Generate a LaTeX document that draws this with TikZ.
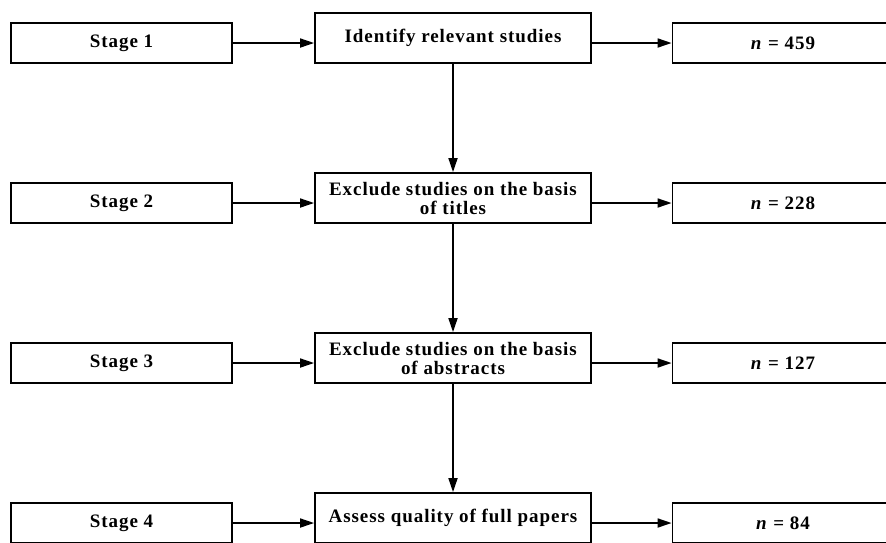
\documentclass[tikz,border=0pt]{standalone}
\usepackage{fontspec}
\setmainfont{Liberation Serif}[LetterSpace=5]
\usetikzlibrary{arrows.meta}
\tikzset{
  box/.style={draw, line width=1.8pt, inner sep=0pt, align=center,
    font=\fontsize{19}{19}\selectfont\bfseries},
  sidebox/.style={box, minimum width=221pt, minimum height=40pt},
  midbox/.style={box, minimum width=276pt, minimum height=50pt},
  arr/.style={line width=1.7pt, -{Triangle[length=14pt,width=9pt]}},
}
\begin{document}
\begin{tikzpicture}[x=1pt,y=-1pt]
\useasboundingbox (0,0) rectangle (886,542);
\clip (0,0) rectangle (886,542);
\foreach \r/\mtext/\num in {0/{Identify relevant studies}/459,
  1/{Exclude studies on the basis\\of titles}/228,
  2/{Exclude studies on the basis\\of abstracts}/127,
  3/{Assess quality of full papers}/84}{
  \pgfmathsetmacro{\yc}{43+160*\r}
  \node[sidebox] (s\r) at (121.5,\yc) {Stage \the\numexpr\r+1\relax};
  \node[midbox] (m\r) at (453,\yc-5) {\mtext};
  \node[sidebox] (n\r) at (783,\yc) {\textit{n} = \num};
  \draw[arr] (s\r.east) -- (s\r.east -| m\r.west);
  \draw[arr] (m\r.east |- n\r.west) -- (n\r.west);
}
\foreach \a/\b in {0/1,1/2,2/3}{
  \draw[arr] (m\a.south) -- (m\b.north);
}
\end{tikzpicture}
\end{document}
